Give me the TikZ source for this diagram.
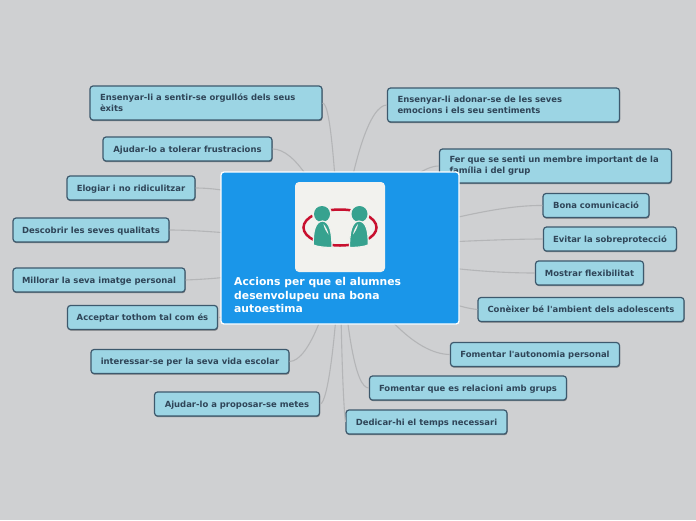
\documentclass[tikz,border=0pt]{standalone}
\usepackage{fontspec}
\setmainfont{DejaVu Sans}[Ligatures=TeXOff]
\usetikzlibrary{shadows}
\definecolor{bgc}{HTML}{CFD0D2}
\definecolor{leaffill}{HTML}{9CD5E4}
\definecolor{leafedge}{HTML}{3D596D}
\definecolor{leaftext}{HTML}{2F4558}
\definecolor{rootfill}{HTML}{1A96E9}
\definecolor{linkc}{HTML}{B4B5B7}
\definecolor{iconbg}{HTML}{F2F2EE}
\definecolor{iconred}{HTML}{C8102E}
\definecolor{icongreen}{HTML}{37A28F}
\tikzset{
  x=1pt,y=-1pt,
  wideleaf/.style={draw=leafedge,fill=leaffill,line width=1.2pt,rounded corners=3pt,
    text=leaftext,font=\bfseries\fontsize{8.45}{11}\selectfont,inner sep=0pt,align=left,
    drop shadow={shadow xshift=0.5pt,shadow yshift=-1.2pt,opacity=.4,fill=black}},
  leaf/.style={wideleaf,align=center,text height=7pt,text depth=1pt},
  link/.style={draw=linkc,line width=1.1pt},
  rootbox/.style={draw=white,fill=rootfill,line width=1.3pt,rounded corners=3pt,inner sep=0pt,minimum width=238pt,minimum height=152pt},
  roottext/.style={text=white,font=\bfseries\fontsize{10.8}{13.6}\selectfont,align=left,inner sep=0pt,anchor=north west},
  iconpanel/.style={fill=iconbg,rounded corners=4pt,inner sep=0pt,minimum width=90pt,minimum height=90pt},
  person/.style={fill=icongreen,draw=iconbg,line width=1.2pt}
}
\begin{document}
\begin{tikzpicture}
\useasboundingbox (0,0) rectangle (696,520);
\fill[bgc] (0,0) rectangle (696,520);
\coordinate (root) at (340,248);
% leaves
\node[wideleaf,minimum width=232pt,minimum height=34pt,text width=212pt] (a1) at (206,103) {Ensenyar-li a sentir-se orgullós dels seus\\èxits};
\node[leaf,minimum width=169pt,minimum height=24pt] (a2) at (187.5,149) {Ajudar-lo a tolerar frustracions};
\node[leaf,minimum width=128pt,minimum height=24pt] (a3) at (131,188) {Elogiar i no ridiculitzar};
\node[leaf,minimum width=156pt,minimum height=24pt] (a4) at (91,230) {Descobrir les seves qualitats};
\node[leaf,minimum width=172pt,minimum height=24pt] (a5) at (99,280) {Millorar la seva imatge personal};
\node[leaf,minimum width=150pt,minimum height=24pt] (a6) at (142.5,317.5) {Acceptar tothom tal com és};
\node[leaf,minimum width=198pt,minimum height=24pt] (a7) at (190,361.5) {interessar-se per la seva vida escolar};
\node[leaf,minimum width=165pt,minimum height=24pt] (a8) at (237,404) {Ajudar-lo a proposar-se metes};
\node[leaf,minimum width=161pt,minimum height=24pt] (b1) at (426.5,422) {Dedicar-hi el temps necessari};
\node[leaf,minimum width=197pt,minimum height=24pt] (b2) at (468,388) {Fomentar que es relacioni amb grups};
\node[leaf,minimum width=169pt,minimum height=24pt] (b3) at (535,354.5) {Fomentar l'autonomia personal};
\node[leaf,minimum width=206pt,minimum height=24pt] (b4) at (581,309.5) {Conèixer bé l'ambient dels adolescents};
\node[leaf,minimum width=108pt,minimum height=24pt] (b5) at (589.5,273) {Mostrar flexibilitat};
\node[leaf,minimum width=133pt,minimum height=24pt] (b6) at (610,239) {Evitar la sobreprotecció};
\node[leaf,minimum width=106pt,minimum height=24pt] (b7) at (596,205.5) {Bona comunicació};
\node[wideleaf,minimum width=232pt,minimum height=34pt,text width=212pt] (b8) at (555.5,166) {Fer que se senti un membre important de la\\família i del grup};
\node[wideleaf,minimum width=232pt,minimum height=34pt,text width=212pt] (b9) at (503.5,105) {Ensenyar-li adonar-se de les seves\\emocions i els seu sentiments};
% connectors
\draw[link] (a1.east) .. controls (332,103) and (336,200) .. (root);
\draw[link] (a2.east) .. controls (295,149) and (320,190) .. (root);
\draw[link] (a3.east) .. controls (215,188) and (280,192) .. (root);
\draw[link] (a4.east) .. controls (200,230) and (270,235) .. (root);
\draw[link] (a5.east) .. controls (210,279) and (280,276) .. (root);
\draw[link] (a6.east) .. controls (240,317) and (290,290) .. (root);
\draw[link] (a7.east) .. controls (310,361) and (330,300) .. (root);
\draw[link] (a8.east) .. controls (328,404) and (337,330) .. (root);
\draw[link] (b1.west) .. controls (343,400) and (341,340) .. (root);
\draw[link] (b2.west) .. controls (355,388) and (347,330) .. (root);
\draw[link] (b3.west) .. controls (415,354) and (375,310) .. (root);
\draw[link] (b4.west) .. controls (465,308) and (440,305) .. (root);
\draw[link] (b5.west) .. controls (490,273) and (420,268) .. (root);
\draw[link] (b6.west) .. controls (500,239) and (420,243) .. (root);
\draw[link] (b7.west) .. controls (500,205) and (440,220) .. (root);
\draw[link] (b8.west) .. controls (425,166) and (400,180) .. (root);
\draw[link] (b9.west) .. controls (370,105) and (352,160) .. (root);
% central topic
\node[rootbox] (main) at (340,248) {};
\node[iconpanel] (icon) at (340,227) {};
\draw[iconred,line width=2.5pt] (340,227.5) ellipse [x radius=36.5pt,y radius=18pt];
\fill[iconbg] (322,214) circle (10);
\fill[iconbg] (359.5,214) circle (10);
\fill[icongreen] (322,214) circle (8);
\fill[icongreen] (359.5,214) circle (8);
\path[person] (322.5,221) .. controls (330,221.5) and (332,233) .. (332,247.5) .. controls (326,247.5) and (318,247) .. (313.3,245) .. controls (313,232) and (315,221.5) .. (322.5,221) -- cycle;
\path[person] (359,221) .. controls (351.5,221.5) and (349.5,233) .. (349.5,247.5) .. controls (355.5,247.5) and (363.5,247) .. (368.2,245) .. controls (368.5,232) and (366.5,221.5) .. (359,221) -- cycle;
\fill[iconbg] (323.5,224) .. controls (326,227) and (328,231) .. (328.5,234.5) .. controls (326.5,232) and (324,228) .. (323.5,224) -- cycle;
\fill[iconbg] (358,224) .. controls (355.5,227) and (353.5,231) .. (353,234.5) .. controls (355,232) and (357.5,228) .. (358,224) -- cycle;
\node[roottext] (title) at (234,277) {Accions per que el alumnes\\desenvolupeu una bona\\autoestima};
\end{tikzpicture}
\end{document}
